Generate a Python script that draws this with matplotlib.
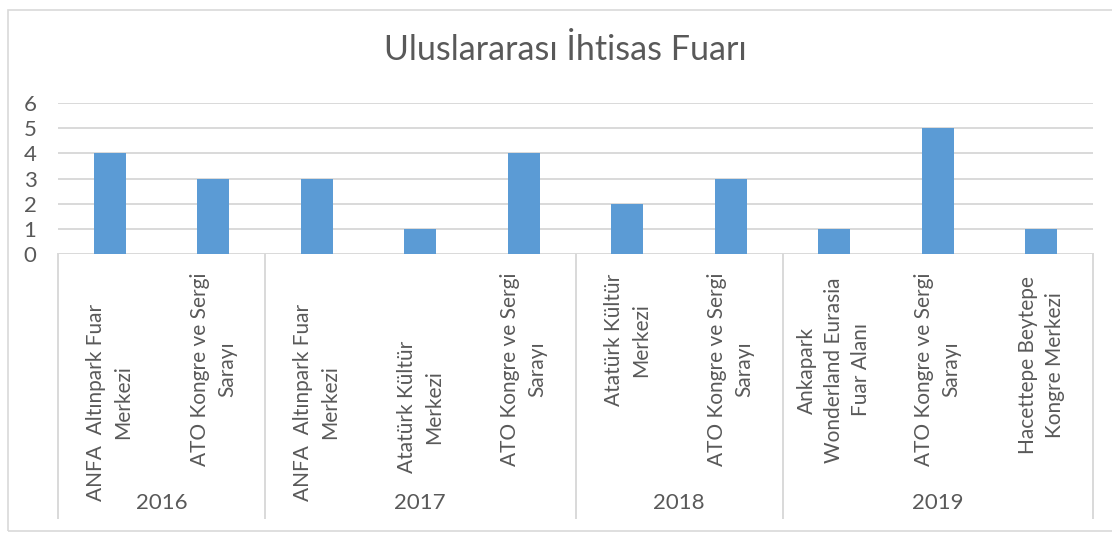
import numpy as np
import matplotlib
matplotlib.use("Agg")
import matplotlib.pyplot as plt
import matplotlib.transforms as mtransforms
from matplotlib.patches import Rectangle

# data
years = ["2016", "2016", "2017", "2017", "2017", "2018", "2018", "2019", "2019", "2019"]
venues = [
    "ANFA  Altınpark Fuar\nMerkezi",
    "ATO Kongre ve Sergi\nSarayı",
    "ANFA  Altınpark Fuar\nMerkezi",
    "Atatürk Kültür\nMerkezi",
    "ATO Kongre ve Sergi\nSarayı",
    "Atatürk Kültür\nMerkezi",
    "ATO Kongre ve Sergi\nSarayı",
    "Ankapark\nWonderland Eurasia\nFuar Alanı",
    "ATO Kongre ve Sergi\nSarayı",
    "Hacettepe Beytepe\nKongre Merkezi",
]
counts = [4, 3, 3, 1, 4, 2, 3, 1, 5, 1]
title = "Uluslararası İhtisas Fuarı"

# layout (pixels in the 1112x533 picture)
W, H = 1112, 533
label_mid_px = [402, 369, 402, 407, 369, 340, 369, 370, 369, 365]
BLUE = "#5B9BD5"
GRID = "#D9D9D9"
TXT = "#595959"

plt.rcParams["font.family"] = ["Lato", "DejaVu Sans"]

fig = plt.figure(figsize=(W / 100, H / 100), dpi=100)
ax = fig.add_axes([58 / W, 1 - 254.3 / H, 1035 / W, 151.3 / H])

x = np.arange(len(counts))
ax.bar(x, counts, width=0.31, color=BLUE, zorder=3)
ax.set_xlim(-0.5, len(counts) - 0.5)
ax.set_ylim(0, 6)
ax.set_yticks(range(0, 7))
ax.yaxis.grid(True, color=GRID, lw=1.4, zorder=0)
ax.set_xticks([])
ax.tick_params(axis="y", length=0, pad=15.5, labelsize=16, labelcolor=TXT)
for s in ["top", "right", "left", "bottom"]:
    ax.spines[s].set_visible(False)

def fy(px):
    return 1 - px / H

tr = mtransforms.blended_transform_factory(ax.transData, fig.transFigure)

# venue labels
for i, name in enumerate(venues):
    ax.text(i, fy(label_mid_px[i]), name, transform=tr, rotation=90,
            ha="center", va="center", multialignment="center",
            fontsize=15, color=TXT, linespacing=1.45, clip_on=False)

# year groups
edges = [0]
for i in range(1, len(years)):
    if years[i] != years[i - 1]:
        edges.append(i)
edges.append(len(years))
for e in edges:
    ax.plot([e - 0.5, e - 0.5], [fy(254.3), fy(518)], transform=tr,
            color=GRID, lw=1.4, clip_on=False)
for a, b in zip(edges[:-1], edges[1:]):
    ax.text((a + b - 1) / 2, fy(503), years[a], transform=tr,
            ha="center", va="center", fontsize=16, color=TXT)

fig.text(565 / W, fy(50), title, ha="center", va="center", fontsize=24.5, color=TXT)

fig.patches.append(Rectangle((7.5 / W, fy(530.5)), 1.2, (530.5 - 10) / H,
                             transform=fig.transFigure, fill=False,
                             edgecolor=GRID, lw=1.2))

fig.savefig("out.png", dpi=100)
